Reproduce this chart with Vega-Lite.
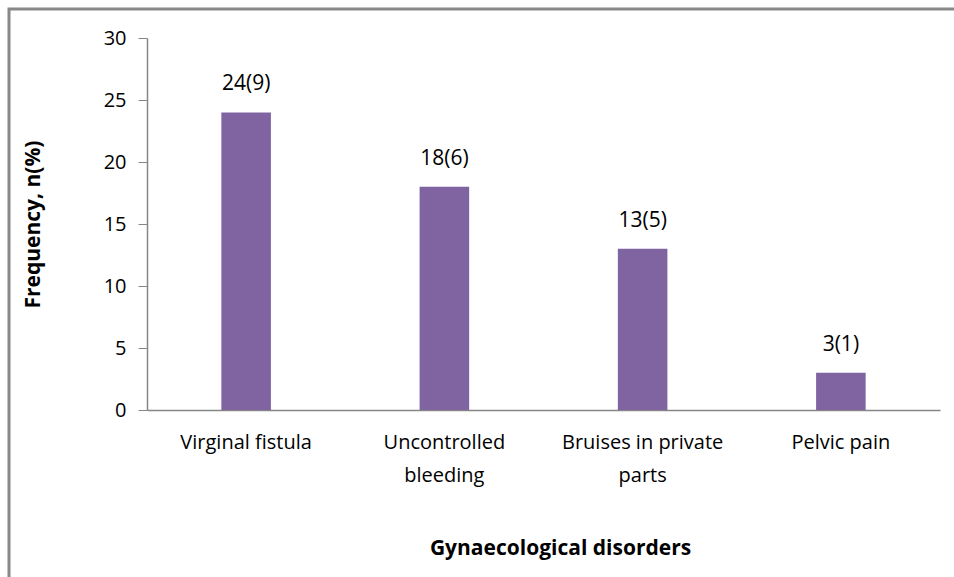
{
  "$schema": "https://vega.github.io/schema/vega-lite/v6.json",
  "autosize": {"type": "none"},
  "width": 960,
  "height": 600,
  "padding": {"left": 9, "top": 9, "right": 0, "bottom": 0},
  "background": "white",
  "config": {
    "view": {"stroke": "#888888", "strokeWidth": 3},
    "font": "Open Sans",
    "axis": {"grid": false, "domainColor": "#868686", "tickColor": "#868686", "labelColor": "#000000", "titleColor": "#000000", "labelFont": "Open Sans", "titleFont": "Open Sans", "labelFontSize": 20, "titleFontSize": 21, "domainWidth": 1.5}
  },
  "data": {
    "values": [
      {"disorder": "Virginal fistula", "frequency": 24, "label": "24(9)"},
      {"disorder": "Uncontrolled bleeding", "frequency": 18, "label": "18(6)"},
      {"disorder": "Bruises in private parts", "frequency": 13, "label": "13(5)"},
      {"disorder": "Pelvic pain", "frequency": 3, "label": "3(1)"}
    ]
  },
  "encoding": {
    "x": {
      "field": "disorder", "type": "nominal", "sort": null,
      "scale": {"range": [138, 931], "paddingInner": 0.75, "paddingOuter": 0.375},
      "axis": {
        "title": "Gynaecological disorders", "titleFontWeight": "bold",
        "offset": -199,
        "titleX": 551, "titleY": 138, "titleBaseline": "middle",
        "labelAngle": 0, "ticks": false, "labelPadding": 32, "labelLineHeight": 33,
        "labelBaseline": "middle",
        "labelExpr": "datum.value == 'Uncontrolled bleeding' ? ['Uncontrolled', 'bleeding'] : datum.value == 'Bruises in private parts' ? ['Bruises in private', 'parts'] : datum.value"
      }
    },
    "y": {
      "field": "frequency", "type": "quantitative",
      "scale": {"domain": [0, 30], "nice": false, "range": [401, 29]},
      "axis": {
        "title": "Frequency, n(%)", "titleFontWeight": "bold",
        "offset": -138,
        "titleX": -114, "titleY": 215, "titleBaseline": "middle", "titleAlign": "center",
        "values": [0, 5, 10, 15, 20, 25, 30], "tickSize": 9, "labelPadding": 12, "labelBaseline": "middle"
      }
    }
  },
  "layer": [
    {"mark": {"type": "bar", "color": "#8064A2"}},
    {"mark": {"type": "text", "baseline": "bottom", "dy": -18, "fontSize": 21, "font": "Open Sans", "color": "#000000"},
     "encoding": {"text": {"field": "label"}}}
  ]
}
